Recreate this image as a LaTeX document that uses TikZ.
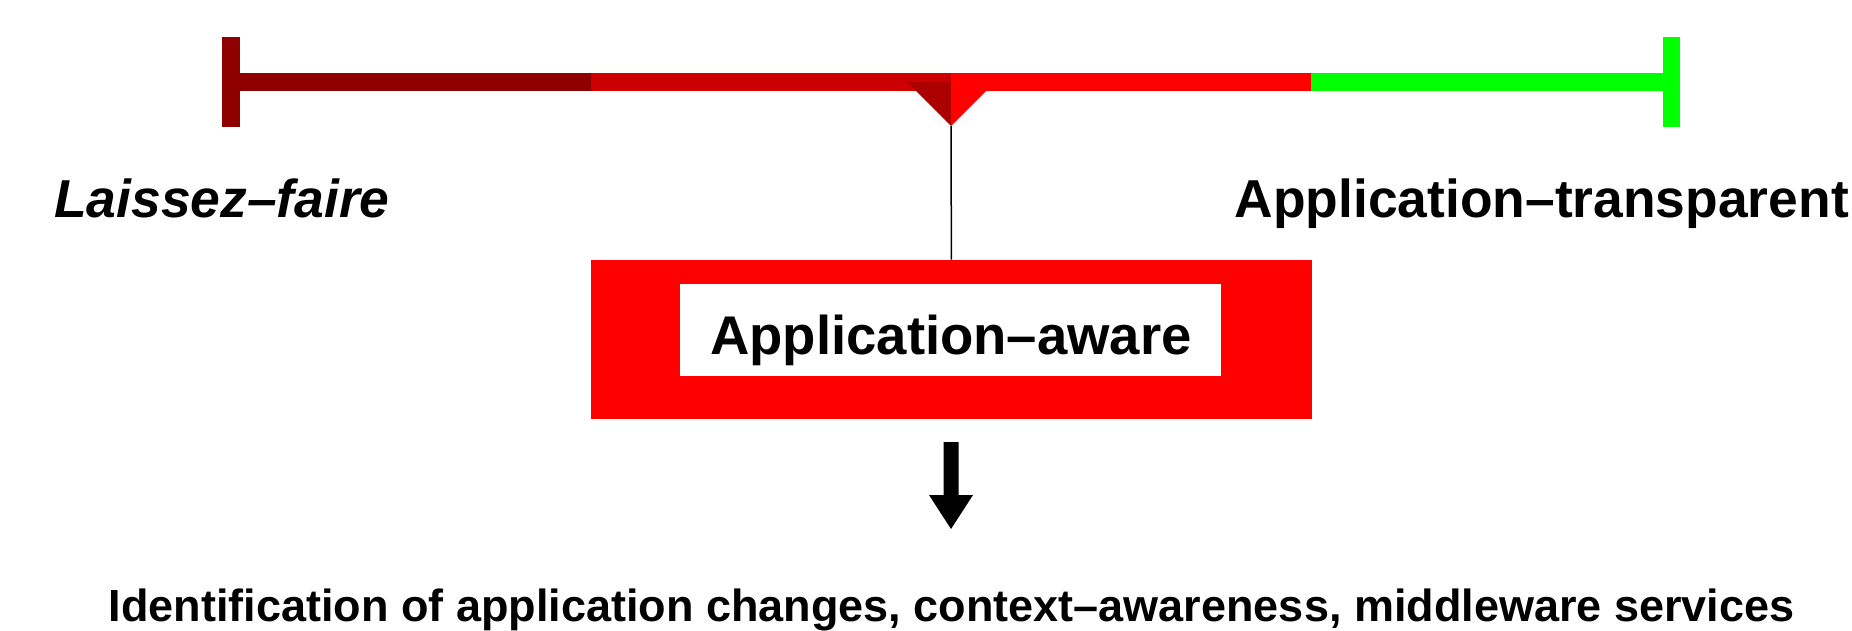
\documentclass[tikz,border=0pt]{standalone}
\usepackage{fontspec}
\setmainfont{Liberation Sans}
\definecolor{barA}{HTML}{8F0000}
\definecolor{barB}{HTML}{CC0000}
\definecolor{barC}{HTML}{FF0000}
\definecolor{barD}{HTML}{00FF00}
\definecolor{ptrL}{HTML}{AA0000}
\tikzset{
  lbl/.style={inner sep=0pt, font=\bfseries\fontsize{53.4}{60}\selectfont},
}
\begin{document}
\begin{tikzpicture}[x=1pt,y=-1pt]
\useasboundingbox[fill=white] (0,0) rectangle (1852,630);
% scale bar
\fill[barA] (222,37) rectangle (240,127);
\fill[barA] (240,73) rectangle (591,91);
\fill[barB] (591,73) rectangle (951,91);
\fill[barC] (951,73) rectangle (1311,91);
\fill[barD] (1311,73) rectangle (1663,91);
\fill[barD] (1663,37) rectangle (1680,127);
% pointer
\fill[ptrL] (907,82) -- (951,82) -- (951,126) -- cycle;
\fill[barC] (951,82) -- (995,82) -- (951,126) -- cycle;
\coordinate (tip) at (951,126);
% labels
\node[lbl, anchor=base west, font=\bfseries\itshape\fontsize{53.4}{60}\selectfont] (lf) at (54,217) {Laissez–faire};
\node[lbl, anchor=base east] (at) at (1849,217) {Application–transparent};
% box
\node[fill=barC, inner sep=0pt, minimum width=721.6pt, minimum height=159.5pt] (outer) at (951.4,339.6) {};
\node[fill=white, inner sep=0pt, minimum width=541pt, minimum height=92pt] (inner) at (950.5,329.5) {};
\node[lbl, anchor=base, font=\bfseries\fontsize{54.5}{60}\selectfont] (aware) at (951,354) {Application–aware};
\draw[line width=1.5pt] (tip) -- (outer.north);
% arrow
\coordinate (ar) at (951,442);
\fill (943.5,442) -- (958.5,442) -- (958.5,495) -- (973,495) -- (951,529) -- (929,495) -- (943.5,495) -- cycle;
% bottom text
\node[lbl, anchor=base, font=\bfseries\fontsize{45}{50}\selectfont] (bottom) at (951.5,621) {Identification of application changes, context–awareness, middleware services};
\end{tikzpicture}
\end{document}
